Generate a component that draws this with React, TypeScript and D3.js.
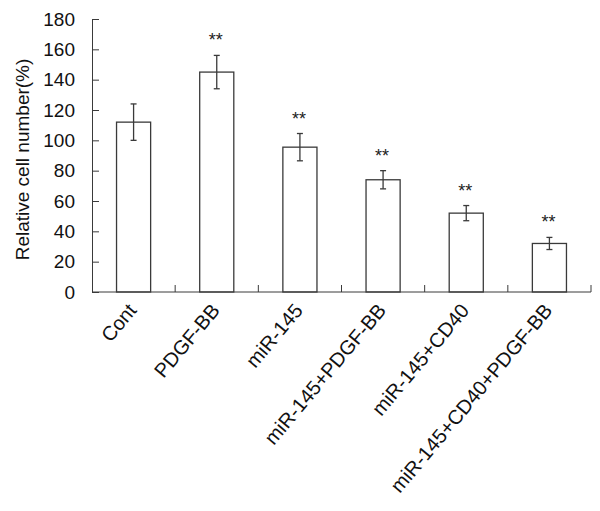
import React, { useEffect, useRef } from "react"
import * as d3 from "d3"

const groups = ["Cont", "PDGF-BB", "miR-145", "miR-145+PDGF-BB", "miR-145+CD40", "miR-145+CD40+PDGF-BB"]
const means = [112, 145, 95.5, 74, 52, 32]
const errors = [12, 11, 9, 6, 5, 4]
const marks = ["", "**", "**", "**", "**", "**"]
const yTicks = [0, 20, 40, 60, 80, 100, 120, 140, 160, 180]

const App = () => {
  const ref = useRef<SVGSVGElement>(null)

  useEffect(() => {
    const dimensions = {
      width: 600,
      height: 511,
      margins: { top: 19, right: 9, bottom: 219, left: 92 },
    }
    const boundedWidth = dimensions.width - dimensions.margins.left - dimensions.margins.right
    const boundedHeight = dimensions.height - dimensions.margins.top - dimensions.margins.bottom

    const svg = d3.select(ref.current)
    svg.selectAll("*").remove()

    const bounds = svg.append("g")
      .attr("transform", `translate(${dimensions.margins.left},${dimensions.margins.top})`)

    const xScale = d3.scaleBand()
      .domain(groups)
      .range([0, boundedWidth])
      .paddingInner(0.59)
      .paddingOuter(0.295)

    const yScale = d3.scaleLinear()
      .domain([0, 180])
      .range([boundedHeight, 0])

    const ink = "#3a3a3a"
    const font = "'Liberation Sans', Arial, sans-serif"

    // bars
    bounds.selectAll("rect.bar")
      .data(groups)
      .join("rect")
      .attr("class", "bar")
      .attr("x", d => xScale(d)!)
      .attr("y", (d, i) => yScale(means[i]))
      .attr("width", xScale.bandwidth())
      .attr("height", (d, i) => boundedHeight - yScale(means[i]))
      .attr("fill", "white")
      .attr("stroke", ink)
      .attr("stroke-width", 1.3)

    // error bars
    const cx = (d: string) => xScale(d)! + xScale.bandwidth() / 2
    const err = bounds.selectAll("g.err")
      .data(groups)
      .join("g")
      .attr("class", "err")
      .attr("stroke", ink)
      .attr("stroke-width", 1.3)
    err.append("line")
      .attr("x1", d => cx(d)).attr("x2", d => cx(d))
      .attr("y1", (d, i) => yScale(means[i] + errors[i]))
      .attr("y2", (d, i) => yScale(means[i] - errors[i]))
    err.append("line")
      .attr("x1", d => cx(d) - 3).attr("x2", d => cx(d) + 3)
      .attr("y1", (d, i) => yScale(means[i] + errors[i]))
      .attr("y2", (d, i) => yScale(means[i] + errors[i]))
    err.append("line")
      .attr("x1", d => cx(d) - 3).attr("x2", d => cx(d) + 3)
      .attr("y1", (d, i) => yScale(means[i] - errors[i]))
      .attr("y2", (d, i) => yScale(means[i] - errors[i]))

    // significance marks
    bounds.selectAll("text.mark")
      .data(groups)
      .join("text")
      .attr("class", "mark")
      .attr("x", d => cx(d) - 1)
      .attr("y", (d, i) => yScale(means[i] + errors[i]) - 9)
      .attr("text-anchor", "middle")
      .style("font-family", font)
      .style("font-size", "18px")
      .attr("fill", "#222")
      .text((d, i) => marks[i])

    // y axis
    const yAxis = bounds.append("g")
      .call(d3.axisLeft(yScale).tickValues(yTicks).tickSizeInner(-7).tickSizeOuter(0).tickPadding(17))
    yAxis.select(".domain").attr("stroke", ink)
    yAxis.selectAll(".tick line").attr("stroke", ink)
    yAxis.selectAll(".tick text")
      .style("font-family", font)
      .style("font-size", "19px")
      .attr("fill", "#111")

    // x axis: ticks at category boundaries
    const step = xScale.step()
    const boundaries = d3.range(groups.length + 1).map(i => i * step)
    const xAxis = bounds.append("g")
      .attr("transform", `translate(0,${boundedHeight})`)
    xAxis.append("line")
      .attr("x1", 0).attr("x2", boundedWidth)
      .attr("stroke", ink)
    xAxis.selectAll("line.tick")
      .data(boundaries.slice(1))
      .join("line")
      .attr("class", "tick")
      .attr("x1", d => d).attr("x2", d => d)
      .attr("y1", 0).attr("y2", -7)
      .attr("stroke", ink)
    xAxis.selectAll("text")
      .data(groups)
      .join("text")
      .attr("transform", d => `translate(${cx(d) + 4},${19}) rotate(-50)`)
      .attr("text-anchor", "end")
      .style("font-family", font)
      .style("font-size", "20px")
      .attr("fill", "#111")
      .text(d => d)

    // y axis title
    svg.append("text")
      .attr("transform", `translate(29,${dimensions.margins.top + boundedHeight / 2 + 4}) rotate(-90)`)
      .attr("text-anchor", "middle")
      .style("font-family", font)
      .style("font-size", "19px")
      .attr("fill", "#111")
      .text("Relative cell number(%)")
  }, [])

  return (
    <svg ref={ref} width={600} height={511}
      style={{ position: "absolute", left: 0, top: 0, background: "white" }} />
  )
}

export default App
